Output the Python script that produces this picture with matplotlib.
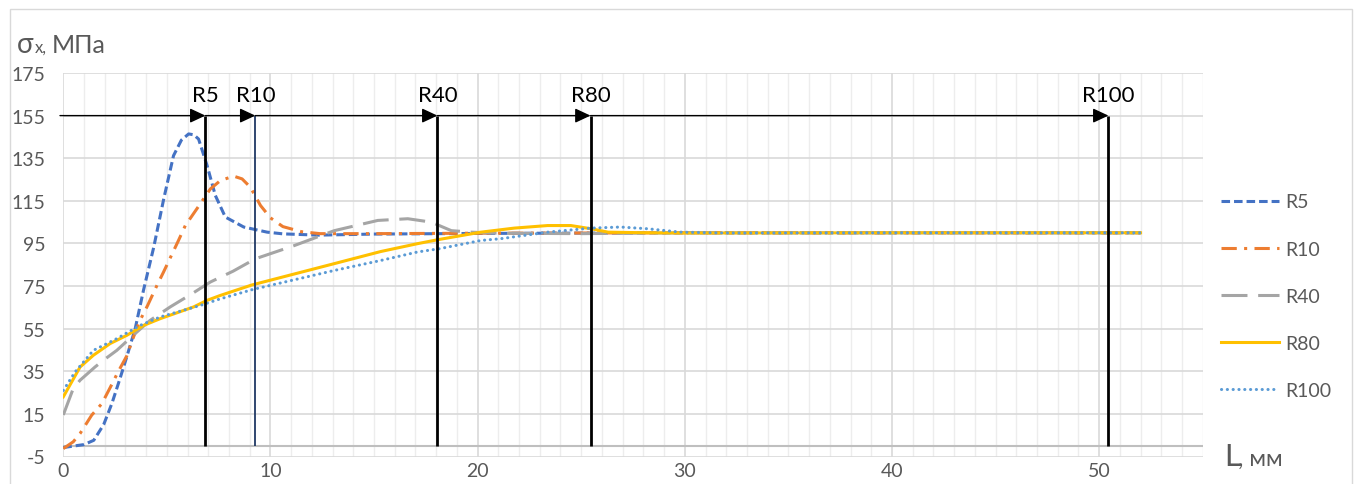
import matplotlib
matplotlib.use("Agg")
import matplotlib.pyplot as plt
from matplotlib.patches import Rectangle
from matplotlib.ticker import MultipleLocator

plt.rcParams['font.family'] = ['Lato', 'Noto Sans', 'DejaVu Sans']
plt.rcParams['axes.unicode_minus'] = False

# ---------------- data ----------------
series_names = ['R5', 'R10', 'R40', 'R80', 'R100']

R5_x = [0, 1.0, 1.47, 1.95, 2.35, 2.75, 3.07, 3.47, 3.87, 4.36, 4.85, 5.32, 5.7, 6.05,
        6.3, 6.53, 6.94, 7.34, 7.82, 8.71, 9.84, 10.6, 12.3, 15, 20, 30, 40, 52]
R5_y = [-0.8, 0.6, 2.6, 10, 20, 32, 42, 55, 73, 93, 116, 136.2, 143.5, 146.4,
        146, 144, 131.6, 117.5, 107.4, 102.7, 100.3, 99.5, 98.9, 99.4, 99.7, 100, 100, 100]

R10_x = [0, 0.48, 0.81, 1.37, 1.86, 2.26, 2.66, 3.07, 3.39, 3.71, 4.07, 4.52, 4.84,
         5.56, 5.89, 6.45, 7.1, 7.58, 8.22, 8.63, 9.03, 9.52, 10.0, 10.6, 11.5, 12.4,
         15, 20, 30, 40, 52]
R10_y = [-1.3, 1.9, 5.8, 14.4, 19.8, 27.3, 35, 42.3, 51.1, 59, 65.9, 75.3, 81.6,
         96.4, 103.4, 111.3, 120.6, 124.5, 126.6, 125.3, 121.4, 112.8, 107, 102.9, 100.5, 99.6,
         99.6, 99.8, 100, 100, 100]

R40_x = [0, 0.48, 0.81, 1.53, 1.94, 2.58, 3.55, 4.19, 5.16, 6.21, 7.1, 8.2, 9.27,
         11.15, 13.08, 15.18, 16.63, 17.76, 18.73, 19.7, 21, 25, 30, 40, 52]
R40_y = [14.5, 26.9, 30.8, 37, 40.2, 44.8, 53.4, 58.9, 65.2, 71.4, 76.9, 82, 87.8,
         94, 101, 105.8, 106.6, 105, 101, 100.3, 99.8, 99.6, 100, 100, 100]

R80_x = [0, 0.81, 1.45, 2.26, 3.07, 3.87, 4.68, 6.29, 6.94, 7.58, 9.1, 13.07, 15.32,
         17.1, 18.1, 20.16, 21.77, 23.38, 24.5, 25.47, 26.3, 28.2, 30, 40, 52]
R80_y = [23, 37, 42.5, 48, 51.9, 56.5, 59.7, 65.2, 68.3, 70.6, 75.5, 85.5, 91.2,
         94.9, 96.8, 100.3, 102.2, 103.4, 103.4, 101.9, 100.3, 100, 99.9, 100, 100]

R100_x = [0, 0.57, 1.45, 2.58, 3.7, 4.68, 6.61, 7.58, 9.15, 13.07, 15.32, 17.1, 18.14,
          20.16, 21.1, 23.38, 25.47, 26.9, 28.2, 29.8, 32, 40, 52]
R100_y = [26, 34.7, 44.8, 50.3, 56.5, 60.5, 65.9, 69, 73.4, 82.3, 87, 91, 92.5,
          96.4, 97.2, 100.3, 102.2, 102.7, 101.9, 100.3, 99.9, 100, 100]

marker_L = [6.86, 9.27, 18.06, 25.45, 50.45]
marker_labels = ['R5', 'R10', 'R40', 'R80', 'R100']
arrow_level = 155
arrow_start = -0.16

x_ticks = [0, 10, 20, 30, 40, 50]
y_ticks = [-5, 15, 35, 55, 75, 95, 115, 135, 155, 175]

# ---------------- styles ----------------
colors = ['#4472C4', '#ED7D31', '#A5A5A5', '#FFC000', '#5B9BD5']
lw = 2.2
styles = [
    dict(linestyle=(0, (2.8, 1.3)), dash_capstyle='butt'),
    dict(linestyle=(0, (5, 2.4, 1, 2.4)), dash_capstyle='butt'),
    dict(linestyle=(0, (8.5, 3.5)), dash_capstyle='butt'),
    dict(linestyle='-'),
    dict(linestyle=(0, (0.05, 1.85)), dash_capstyle='round'),
]

W, H = 1358, 485
fig = plt.figure(figsize=(W / 100, H / 100), dpi=100)
ax_left, ax_right, ax_top, ax_bottom = 63.3, 1202.7, 74, 457.5
ax = fig.add_axes([ax_left / W, 1 - ax_bottom / H, (ax_right - ax_left) / W, (ax_bottom - ax_top) / H])

ax.set_xlim(0, 55)
ax.set_ylim(-5, 175)
for s in ax.spines.values():
    s.set_visible(False)

# gridlines
ax.xaxis.set_major_locator(MultipleLocator(10))
ax.xaxis.set_minor_locator(MultipleLocator(1))
ax.set_yticks(y_ticks)
ax.set_xticks(x_ticks)
ax.grid(which='minor', axis='x', color='#EDEDED', lw=1.0)
ax.grid(which='major', axis='x', color='#D9D9D9', lw=1.2)
ax.grid(which='major', axis='y', color='#D9D9D9', lw=1.2)
ax.set_axisbelow(True)
ax.axhline(0, color='#BFBFBF', lw=1.5, zorder=1.5)

ax.tick_params(axis='both', which='both', length=0, labelsize=14, labelcolor='#595959')
ax.tick_params(axis='y', pad=13)
ax.tick_params(axis='x', pad=4)

all_x = [R5_x, R10_x, R40_x, R80_x, R100_x]
all_y = [R5_y, R10_y, R40_y, R80_y, R100_y]
for name, xs, ys, c, st in zip(series_names, all_x, all_y, colors, styles):
    ax.plot(xs, ys, color=c, lw=lw, label=name, zorder=3, solid_joinstyle='round', **st)

# vertical marker lines and arrows
line_colors = ['black', '#203864', 'black', 'black', 'black']
line_widths = [2.0, 1.3, 2.0, 2.0, 2.0]
starts = [arrow_start] + marker_L[:-1]
for xl, lab, lc, lwd, xs in zip(marker_L, marker_labels, line_colors, line_widths, starts):
    ax.plot([xl, xl], [0, arrow_level], color=lc, lw=lwd, zorder=4, solid_capstyle='butt')
    ax.annotate('', xy=(xl, arrow_level), xytext=(xs, arrow_level),
                arrowprops=dict(arrowstyle='-|>,head_length=0.47,head_width=0.22',
                                mutation_scale=20, lw=1.0, color='black',
                                shrinkA=0, shrinkB=0),
                zorder=5, annotation_clip=False)
    ax.text(xl, 164.8, lab, ha='center', va='center', fontsize=16, color='black', zorder=6)

# legend
leg = fig.legend(loc='upper left', bbox_to_anchor=(1203 / W, 1 - 177 / H), frameon=False,
                 fontsize=14, handlelength=3.0, handletextpad=0.35, labelspacing=1.55,
                 labelcolor='#595959')

# axis titles
fig.text(17 / W, 1 - 53 / H, 'σ', fontsize=20, color='#595959', ha='left', va='baseline')
fig.text(34.5 / W, 1 - 53 / H, 'x,', fontsize=12, color='#595959', ha='left', va='baseline')
fig.text(52 / W, 1 - 53 / H, 'МПа', fontsize=18, color='#595959', ha='left', va='baseline')
fig.text(1224 / W, 1 - 466 / H, 'L', fontsize=22, color='#595959', ha='left', va='baseline')
fig.text(1238 / W, 1 - 466 / H, ', мм', fontsize=17, color='#595959', ha='left', va='baseline')

# outer chart frame
fig.patches.append(Rectangle((10 / W, -0.1), (1352 - 10) / W, 1.1 - 10 / H, transform=fig.transFigure,
                             fill=False, edgecolor='#D9D9D9', lw=1.0))

fig.savefig('out.png', dpi=100)
